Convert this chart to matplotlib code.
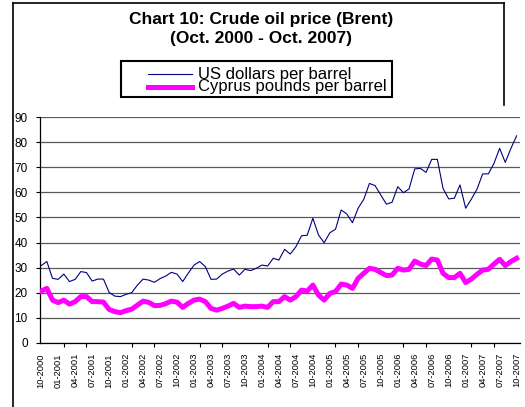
import matplotlib
matplotlib.use('Agg')
import matplotlib.pyplot as plt
from matplotlib.lines import Line2D
from matplotlib.patches import Rectangle

plt.rcParams['font.family'] = ['Liberation Sans', 'DejaVu Sans']

# Brent, monthly, Oct 2000 - Oct 2007
usd = [30.8, 32.4, 25.7, 25.3, 27.4, 24.4, 25.3, 28.4, 28.0, 24.6, 25.4, 25.4,
       20.1, 18.6, 18.4, 19.3, 20.0, 23.0, 25.4, 25.0, 24.1, 25.6, 26.6, 28.1,
       27.4, 24.4, 27.8, 31.0, 32.4, 30.4, 25.3, 25.4, 27.4, 28.6, 29.4, 27.0,
       29.3, 28.8, 29.7, 31.0, 30.6, 33.7, 33.0, 37.3, 35.4, 38.3, 42.7, 42.9,
       49.7, 43.0, 39.9, 43.9, 45.3, 53.0, 51.4, 47.9, 53.7, 57.3, 63.6, 62.7,
       59.0, 55.3, 56.1, 62.3, 59.9, 61.4, 69.4, 69.6, 68.0, 73.2, 73.2, 61.6,
       57.4, 57.7, 63.0, 53.7, 57.3, 61.3, 67.4, 67.4, 71.6, 77.6, 72.0, 77.6,
       82.6]
cyp = [20.6, 21.7, 17.0, 16.0, 17.0, 15.4, 16.4, 18.4, 18.4, 16.4, 16.4, 16.2,
       13.3, 12.4, 12.0, 12.8, 13.4, 15.0, 16.6, 16.1, 14.8, 14.9, 15.6, 16.6,
       16.2, 14.1, 15.7, 17.0, 17.4, 16.4, 13.7, 13.0, 13.7, 14.6, 15.7, 14.1,
       14.6, 14.4, 14.4, 14.6, 14.1, 16.4, 16.4, 18.4, 17.0, 18.4, 21.0, 20.6,
       23.0, 19.0, 17.0, 19.7, 20.4, 23.4, 23.0, 21.7, 25.7, 27.7, 29.7, 29.3,
       28.0, 26.8, 27.0, 29.7, 29.0, 29.3, 32.6, 31.4, 30.8, 33.4, 33.0, 27.7,
       26.0, 26.0, 27.7, 24.0, 25.4, 27.3, 29.0, 29.3, 31.4, 33.3, 30.8, 32.4,
       33.7]
labels = ['US dollars per barrel', 'Cyprus pounds per barrel']
months = ['%02d-%d' % ((9 + i) % 12 + 1, 2000 + (9 + i) // 12) for i in range(len(usd))]

W, H = 525, 407
fig = plt.figure(figsize=(W / 100, H / 100), dpi=100)
ax = fig.add_axes([39.5 / W, 1 - 342.7 / H, 480.5 / W, (342.7 - 117.3) / H])

x = range(len(usd))
ax.plot(x, cyp, color='#ff00ff', lw=3.6, solid_joinstyle='round', zorder=3)
ax.plot(x, usd, color='#000080', lw=0.8, zorder=4)

ax.set_xlim(-0.3, 84.6)
ax.set_ylim(0, 90)
ax.set_yticks(range(0, 91, 10))
ax.yaxis.grid(True, color='#5a5a5a', lw=0.9)
ax.set_axisbelow(True)
for s in ['top', 'right']:
    ax.spines[s].set_visible(False)
for s in ['left', 'bottom']:
    ax.spines[s].set_linewidth(0.9)

ax.set_xticks(range(0, 85, 3))
ax.set_xticklabels(months[::3], rotation=90, fontsize=6.7)
ax.tick_params(axis='x', which='major', length=0, pad=7.5)
ax.set_xticks(range(0, 85, 4), minor=True)
ax.tick_params(axis='x', which='minor', length=3, width=0.8)
ax.tick_params(axis='y', length=3, width=0.8, labelsize=8.5, pad=5.5)

# titel
fig.text(261 / W, 1 - 24 / H, 'Chart 10: Crude oil price (Brent)', ha='center',
         va='baseline', fontsize=12.5, weight='bold')
fig.text(261 / W, 1 - 42.7 / H, '(Oct. 2000 - Oct. 2007)', ha='center',
         va='baseline', fontsize=12.5, weight='bold')

# legende
fig.add_artist(Rectangle((120.7 / W, 1 - 96.7 / H), 271 / W, 35.7 / H,
                         transform=fig.transFigure, fill=False, ec='black', lw=1.5))
fig.add_artist(Line2D([148 / W, 192 / W], [1 - 74 / H] * 2, color='#000080', lw=0.8))
fig.add_artist(Line2D([148 / W, 192 / W], [1 - 87 / H] * 2, color='#ff00ff', lw=3.6))
fig.text(198 / W, 1 - 80.2 / H, '\n'.join(labels), va='center', fontsize=12,
         linespacing=0.72)

# rand
fig.add_artist(Line2D([12.7 / W, 12.7 / W], [0, 1 - 3 / H], color='black', lw=1.2))
fig.add_artist(Line2D([12.7 / W, 504 / W], [1 - 3 / H] * 2, color='black', lw=1.2))
fig.add_artist(Line2D([504 / W, 504 / W], [1 - 3 / H, 1 - 105 / H], color='black', lw=1.2))

fig.savefig('out.png', dpi=100)
